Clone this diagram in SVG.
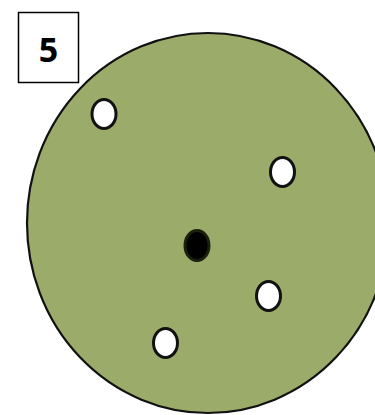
<svg xmlns="http://www.w3.org/2000/svg" width="375" height="415" viewBox="0 0 375 415">
<style>
.hole{fill:#ffffff;stroke:#111111;stroke-width:3}
</style>
<rect width="375" height="415" fill="#ffffff"/>
<g id="label">
<rect x="18.5" y="12.5" width="60" height="70" fill="#ffffff" stroke="#000000" stroke-width="1.5"/>
<text x="48.5" y="62" text-anchor="middle" font-family="Open Sans, Liberation Sans, sans-serif" font-weight="bold" font-size="34" fill="#000000">5</text>
</g>
<g id="disc">
<ellipse cx="208" cy="223" rx="181" ry="190" fill="#9bab69" stroke="#111111" stroke-width="2.2"/>
</g>
<g id="holes">
<ellipse class="hole" cx="104" cy="114" rx="12" ry="14.5"/>
<ellipse class="hole" cx="282.5" cy="172" rx="12" ry="14.5"/>
<ellipse class="hole" cx="268.5" cy="296" rx="12" ry="14.5"/>
<ellipse class="hole" cx="165.5" cy="343" rx="12" ry="14.5"/>
<ellipse cx="197" cy="245.5" rx="12" ry="15" fill="#000000" stroke="#1a1f0f" stroke-width="3"/>
</g>
</svg>
